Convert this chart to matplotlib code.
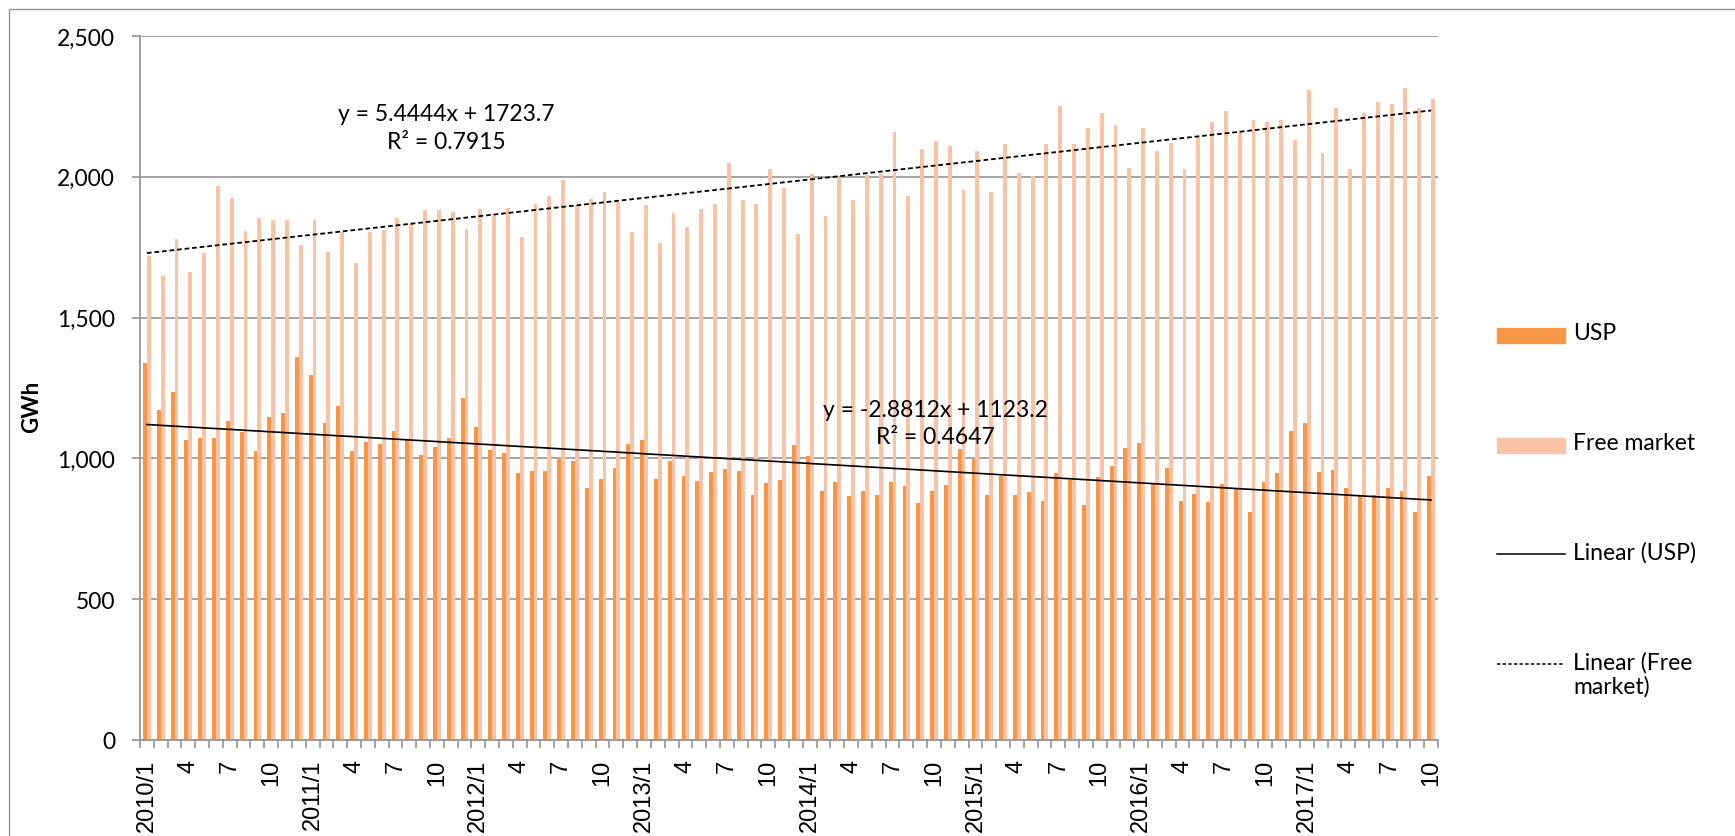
import numpy as np
import matplotlib
matplotlib.use("Agg")
import matplotlib.pyplot as plt
from matplotlib.patches import Rectangle
from matplotlib.lines import Line2D
from matplotlib.ticker import FuncFormatter

plt.rcParams['font.family'] = ['Lato', 'DejaVu Sans']

# monthly sales, GWh, 2010/1 .. 2017/10
usp = [1340, 1173, 1235, 1065, 1073, 1073, 1132, 1095, 1025, 1147, 1161, 1361,
       1296, 1126, 1187, 1027, 1058, 1051, 1097, 1064, 1013, 1040, 1072, 1214,
       1112, 1031, 1018, 949, 955, 957, 1006, 989, 896, 927, 966, 1050,
       1065, 927, 990, 938, 920, 953, 961, 955, 871, 913, 923, 1046,
       1008, 885, 917, 867, 884, 870, 917, 903, 842, 884, 905, 1034,
       998, 870, 937, 870, 880, 849, 949, 924, 834, 933, 972, 1036,
       1054, 909, 966, 847, 873, 844, 908, 890, 810, 917, 949, 1096,
       1126, 953, 959, 895, 867, 870, 895, 885, 810, 936]
free_market = [1717, 1648, 1779, 1661, 1731, 1969, 1923, 1808, 1854, 1848, 1847, 1758,
               1848, 1734, 1805, 1695, 1805, 1811, 1855, 1832, 1882, 1882, 1875, 1813,
               1884, 1868, 1890, 1787, 1904, 1932, 1990, 1898, 1922, 1945, 1910, 1804,
               1901, 1766, 1873, 1823, 1887, 1904, 2050, 1919, 1905, 2029, 1962, 1797,
               2011, 1860, 2001, 1917, 2008, 2011, 2159, 1933, 2097, 2128, 2110, 1953,
               2093, 1947, 2115, 2014, 2002, 2118, 2253, 2115, 2172, 2225, 2184, 2033,
               2173, 2093, 2120, 2029, 2140, 2194, 2232, 2162, 2200, 2195, 2200, 2129,
               2307, 2083, 2246, 2028, 2228, 2266, 2257, 2316, 2243, 2277]

# Excel trend lines (slope, intercept, R²), x = 1..n
fit_usp = (-2.8812, 1123.2, 0.4647)
fit_free = (5.4444, 1723.7, 0.7915)

n = len(usp)
x = np.arange(n)
labels = []
for i in range(n):
    year, month = 2010 + i // 12, i % 12 + 1
    labels.append(f"{year}/1" if month == 1 else str(month))

W, H = 1735, 837
fig = plt.figure(figsize=(W / 100, H / 100), dpi=100)
ax = fig.add_axes([140 / W, 1 - 741 / H, 1298 / W, 704 / H])

usp_c = '#F79646'
free_c = '#FAC3A5'
grey = '#969696'

ax.bar(x - 0.14, usp, 0.28, color=usp_c, zorder=2)
ax.bar(x + 0.14, free_market, 0.28, color=free_c, zorder=2)

xs = np.array([0, n - 1])
ax.plot(xs, fit_usp[0] * (xs + 1) + fit_usp[1], color='black', lw=1.2, zorder=3)
ax.plot(xs, fit_free[0] * (xs + 1) + fit_free[1], color='black', lw=1.3,
        ls=(0, (2.6, 1.6)), zorder=3)

ax.text(21.7, 2174, f"y = {fit_free[0]}x + {fit_free[1]}\nR² = {fit_free[2]}",
        ha='center', va='center', fontsize=16.5, linespacing=1.4, zorder=4)
ax.text(57.1, 1126, f"y = {fit_usp[0]}x + {fit_usp[1]}\nR² = {fit_usp[2]}",
        ha='center', va='center', fontsize=16.5, linespacing=1.4, zorder=4)

ax.set_xlim(-0.5, n - 0.5)
ax.set_ylim(0, 2500)
ax.set_yticks(range(0, 2501, 500))
ax.yaxis.set_major_formatter(FuncFormatter(lambda v, p: f"{v:,.0f}"))
ax.yaxis.grid(True, color=grey, lw=1.2)
ax.set_axisbelow(True)
for s in ['top', 'right']:
    ax.spines[s].set_visible(False)
for s in ['left', 'bottom']:
    ax.spines[s].set_color(grey)
    ax.spines[s].set_linewidth(1.3)

ax.tick_params(axis='y', length=6, width=1.2, color=grey, pad=12, labelsize=16.5)
ax.set_xticks(x[::3])
ax.set_xticklabels(labels[::3], rotation=90, fontsize=17, family='Liberation Sans')
ax.set_xticks(np.arange(-0.5, n, 1), minor=True)
ax.tick_params(axis='x', which='major', length=0, pad=13.5)
ax.tick_params(axis='x', which='minor', length=6, width=1.2, color=grey)

fig.text(32 / W, 1 - 407 / H, 'GWh', rotation=90, ha='center', va='center',
         fontsize=16, fontweight='bold')

# legend, laid out like the Excel one
leg = [('USP', 'patch', usp_c, 336),
       ('Free market', 'patch', free_c, 446),
       ('Linear (USP)', '-', 'black', 555),
       ('Linear (Free\nmarket)', '--', 'black', 665)]
for text, kind, col, yc in leg:
    yf = 1 - yc / H
    if kind == 'patch':
        fig.add_artist(Rectangle((1497 / W, yf - 7.5 / H), 68 / W, 15 / H,
                                 color=col, transform=fig.transFigure))
    else:
        ls = '-' if kind == '-' else (0, (2.2, 1.5))
        fig.add_artist(Line2D([1497 / W, 1565 / W], [yf, yf], color=col, lw=1.1,
                              ls=ls, transform=fig.transFigure))
    fig.text(1573 / W, 1 - (yc - 12.5) / H, text, ha='left', va='top',
             fontsize=16.5, linespacing=1.1)

# chart area border
fig.add_artist(Rectangle((9 / W, -0.1), 1.2, 1.1 - 10 / H, fill=False,
                         edgecolor=grey, lw=1.0, transform=fig.transFigure))

fig.savefig('out.png', dpi=100)
